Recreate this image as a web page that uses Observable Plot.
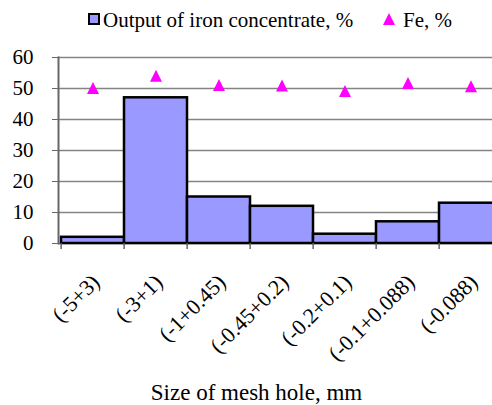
<!DOCTYPE html>
<html>
<head>
<meta charset="utf-8">
<script src="https://cdn.jsdelivr.net/npm/d3@7"></script>
<script src="https://cdn.jsdelivr.net/npm/@observablehq/plot@0.6"></script>
<style>
  html, body { margin: 0; padding: 0; background: #fff; overflow: hidden; width: 492px; height: 405px; }
  #legend { position: relative; height: 40px; width: 492px; font-family: "Times New Roman", "Liberation Serif", "DejaVu Serif", serif; font-size: 21px; line-height: 20px; color: #000; }
  #legend .item { position: absolute; white-space: nowrap; }
  #chart svg { display: block; max-width: none !important; }
</style>
</head>
<body>
<div id="legend"></div>
<div id="chart"></div>
<script>
const categories = ["(-5+3)", "(-3+1)", "(-1+0.45)", "(-0.45+0.2)", "(-0.2+0.1)", "(-0.1+0.088)", "(-0.088)"];
const outputValues = [2, 47, 15, 12, 3, 7, 13];
const feValues = [50.2, 54.1, 51.1, 51.0, 49.2, 51.8, 50.7];
const yTicks = [0, 10, 20, 30, 40, 50, 60];
const seriesNames = ["Output of iron concentrate, %", "Fe, %"];
const xTitle = "Size of mesh hole, mm";

const barColor = "#9999FF";
const feColor = "#FF00FF";
const serif = '"Times New Roman", "Liberation Serif", "DejaVu Serif", serif';

const data = categories.map((c, i) => ({cat: c, output: outputValues[i], fe: feValues[i]}));

// Legend (HTML, above the SVG)
const legend = document.getElementById("legend");
legend.innerHTML = `
  <span class="item" style="left:88px;top:13px;width:12px;height:12px;box-sizing:border-box;border:2px solid #000;background:${barColor}"></span>
  <span class="item" style="left:103px;top:10px">${seriesNames[0]}</span>
  <svg class="item" style="left:383px;top:13px" width="12" height="12"><polygon points="6,0 12,12 0,12" fill="${feColor}"/></svg>
  <span class="item" style="left:403px;top:10px">${seriesNames[1]}</span>`;

const W = 506, mL = 58, mR = 2;
const bw = (W - mL - mR) / categories.length;

const tri = {
  draw(ctx, size) {
    const r = Math.sqrt(size / Math.PI);
    ctx.moveTo(0, -r);
    ctx.lineTo(r, r);
    ctx.lineTo(-r, r);
    ctx.closePath();
  }
};

const chart = Plot.plot({
  width: W,
  height: 365,
  marginLeft: mL,
  marginRight: mR,
  marginTop: 17,
  marginBottom: 162,
  style: {fontFamily: serif, color: "#000", background: "#fff", maxWidth: "none"},
  x: {domain: categories, padding: 0, axis: null},
  y: {domain: [0, 60], axis: null},
  marks: [
    Plot.ruleY(yTicks, {stroke: "#848484", strokeWidth: 1.6}),
    Plot.barY(data, {x: "cat", y: "output", fill: barColor, stroke: "#000", strokeWidth: 2.5}),
    Plot.frame({anchor: "left", stroke: "#666", strokeWidth: 2}),
    Plot.axisY({ticks: yTicks, tickSize: 6, tickPadding: 19, fontSize: 21, stroke: "#666", color: "#000", label: null}),
    Plot.ruleX(categories, {x: d => d, dx: -bw / 2, y1: () => 0, y2: () => 0, insetBottom: -6, stroke: "#666", strokeWidth: 1.5}),
    Plot.axisX({tickSize: 0, tickRotate: -45, tickPadding: 35, dx: 3, fontSize: 22, label: null, color: "#000"}),
    Plot.dot(data, {x: "cat", y: "fe", symbol: tri, r: 6, fill: feColor, stroke: "none"}),
    Plot.text([xTitle], {frameAnchor: "bottom", dx: -25, dy: 149.5, fontSize: 23, lineAnchor: "middle", fill: "#000"})
  ]
});
document.getElementById("chart").appendChild(chart);
</script>
</body>
</html>
